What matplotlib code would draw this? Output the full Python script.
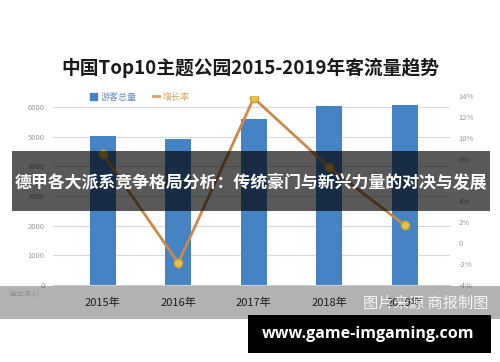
import numpy as np
import matplotlib
matplotlib.use("Agg")
from matplotlib import pyplot as plt
from matplotlib.patches import Rectangle
from matplotlib.lines import Line2D

plt.rcParams['font.family'] = ['Noto Sans CJK SC', 'DejaVu Sans']

# data
years = ["2015年", "2016年", "2017年", "2018年", "2019年"]
visitors = [5010, 4920, 5610, 6025, 6080]      # 万人
growth = [8.5, -1.9, 13.8, 7.2, 1.7]           # %
leftTicks = [0, 1000, 2000, 3000, 4000, 5000, 6000]
rightTicks = [-4, -2, 0, 2, 4, 6, 8, 10, 12, 14]

title = "中国Top10主题公园2015-2019年客流量趋势"
banner = "德甲各大派系竞争格局分析：传统豪门与新兴力量的对决与发展"
unitText = "(单位:万人)"
sourceText = "图片来源 商报制图"
siteText = "www.game-imgaming.com"

W, H = 500, 362
fig = plt.figure(figsize=(W/100, H/100), dpi=100)
fig.patch.set_facecolor("white")

# plot area in pixels: x 53..450, y 96..285
ax = fig.add_axes([53/W, 1 - 285/H, 397/W, 189/H])
ax2 = ax.twinx()

x = np.arange(len(years))
bars = ax.bar(x, visitors, width=0.34, color="#4583c4", zorder=2)
ax.set_xlim(-0.66, 4.6)
ax.set_ylim(0, 6371)
ax.set_yticks(leftTicks)
ax.set_yticklabels([str(t) for t in leftTicks])
ax.grid(axis="y", color="#d9d9d9", linewidth=0.8, zorder=0)
ax.set_axisbelow(True)
ax.set_xticks(x)
ax.set_xticklabels(years, fontsize=8, color="#2a2a2a")
ax.tick_params(axis="x", length=0, pad=9)
ax.tick_params(axis="y", length=0, labelsize=5.5, labelcolor="#9a9a9a", pad=6)
for s in ax.spines.values():
    s.set_visible(False)
ax.spines["bottom"].set_visible(True)
ax.spines["bottom"].set_color("#d0d0d0")

ax2.plot(x, growth, color="#c98a4e", linewidth=2, marker="o", markersize=6,
         markerfacecolor="#e6c14c", markeredgecolor="#c9a33a", zorder=3)
ax2.set_ylim(-4, 14)
ax2.set_yticks(rightTicks)
ax2.set_yticklabels([("%d%%" % t) if t != 0 else "0" for t in rightTicks])
ax2.tick_params(axis="y", length=0, labelsize=5.5, labelcolor="#9a9a9a", pad=6)
for s in ax2.spines.values():
    s.set_visible(False)

# legend
handles = [Rectangle((0, 0), 1, 1, color="#4583c4"),
           Line2D([0], [0], color="#d9a066", linewidth=2)]
leg = fig.legend(handles, ["游客总量", "增长率"], ncol=2, frameon=False,
                 loc="center", bbox_to_anchor=(140/W, 1 - 97/H), fontsize=6.5,
                 handlelength=0.7, handleheight=0.7, handletextpad=0.4,
                 columnspacing=1.8)
leg.get_texts()[0].set_color("#6a8fb8")
leg.get_texts()[1].set_color("#d9a066")

fig.text(250/W, 1 - 68/H, title, ha="center", va="center", fontsize=13.5,
         fontweight="bold", color="#1a1a1a")
fig.text(24/W, 1 - 295/H, unitText, ha="center", va="center", fontsize=4.5,
         color="#8a8a8a", zorder=7)

# overlays on top of the chart
fig.add_artist(Rectangle((12/W, 1 - 211/H), 478/W, 60/H, transform=fig.transFigure,
                         facecolor="black", alpha=0.65, edgecolor="none", zorder=5))
fig.text(251/W, 1 - 183/H, banner, ha="center", va="center", fontsize=12.2,
         fontweight="bold", color="white", zorder=6)

fig.add_artist(Rectangle((0, 1 - 319/H), 1, 33/H, transform=fig.transFigure,
                         facecolor="black", alpha=0.3, edgecolor="none", zorder=5))
fig.text(426/W, 1 - 303/H, sourceText, ha="center", va="center", fontsize=11,
         color="white", alpha=0.85, zorder=6)

fig.add_artist(Rectangle((248/W, 1 - 353/H), 243/W, 38/H, transform=fig.transFigure,
                         facecolor="black", edgecolor="none", zorder=7))
fig.text(368/W, 1 - 334/H, siteText, ha="center", va="center", fontsize=11.5,
         fontweight="bold", color="white", family=["Open Sans", "DejaVu Sans"], zorder=8)

fig.savefig("out.png", dpi=100)
